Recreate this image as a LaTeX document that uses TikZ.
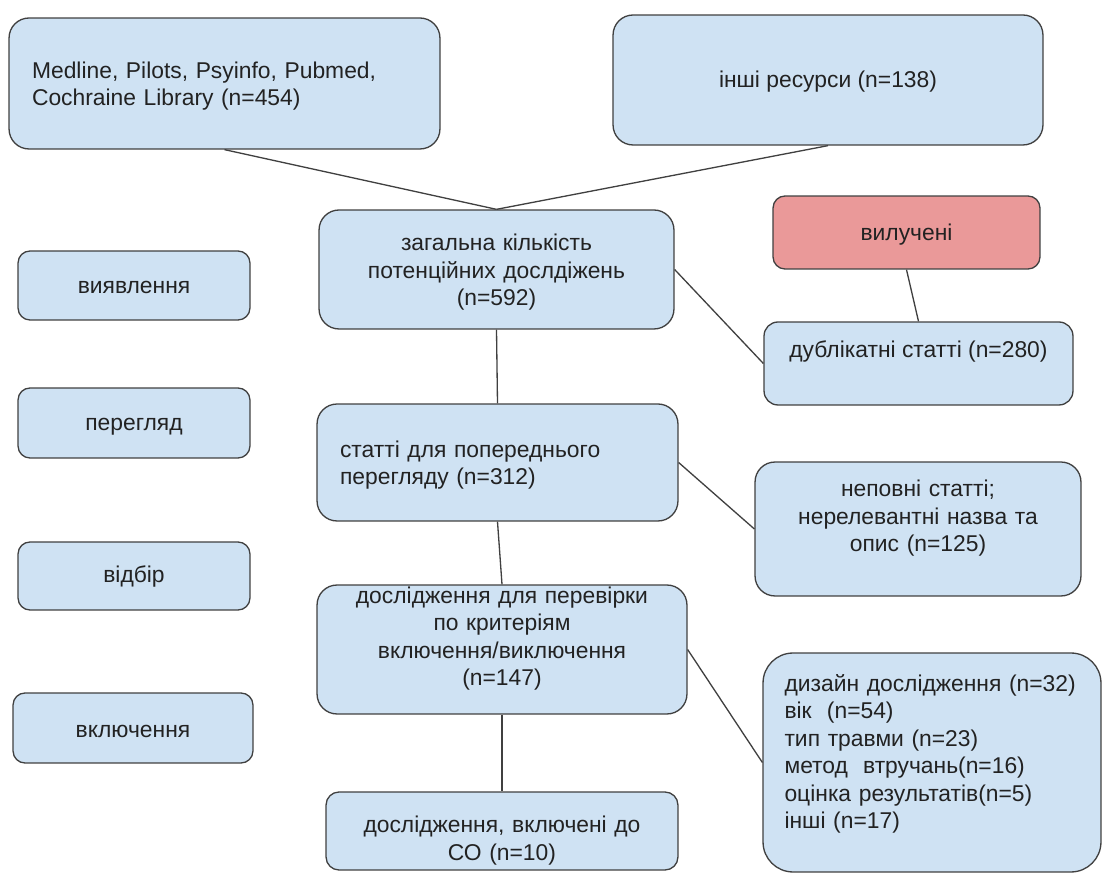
\documentclass[tikz,border=0pt]{standalone}
\usepackage{fontspec}
\setmainfont{Liberation Sans}
\usepackage{xcolor}
\usepackage{tikz}

\definecolor{boxblue}{HTML}{CFE2F3}
\definecolor{boxred}{HTML}{EA9999}
\definecolor{edgegray}{HTML}{404040}
\definecolor{inkgray}{HTML}{222222}

\tikzset{
  box/.style={draw=edgegray, fill=boxblue, line width=0.75pt, rounded corners=0.4cm,
    text=inkgray, font=\fontsize{13}{15.65}\selectfont, inner xsep=0.2cm},
  smallbox/.style={box, rounded corners=0.24cm},
  link/.style={draw=edgegray, line width=0.75pt},
}

\begin{document}
\begin{tikzpicture}[x=0.02cm,y=-0.02cm]
  \useasboundingbox (0,0) rectangle (1103,874);

  \node[box, minimum width=8.62cm, minimum height=2.62cm, text width=7.7cm, inner xsep=0.46cm, align=left, text height=0pt, text depth=6.06pt] (src) at (224.5,83.5) {Medline, Pilots, Psyinfo, Pubmed,\\ Cochraine Library (n=454)};
  \node[box, minimum width=8.6cm, minimum height=2.6cm, text height=9.02pt, text depth=0pt] (oth) at (828,80) {інші ресурси (n=138)};
  \node[box, minimum width=7.1cm, minimum height=2.38cm, text width=6.6cm, align=center, text height=0pt, text depth=21.15pt] (tot) at (496.5,269.5) {загальна кількість\\ потенційних дослдіжень\\ (n=592)};
  \node[smallbox, fill=boxred, minimum width=5.34cm, minimum height=1.46cm, text height=9.59pt, text depth=0pt] (excl) at (906.5,232.5) {вилучені};
  \node[box, rounded corners=0.28cm, minimum width=6.18cm, minimum height=1.66cm, text height=0pt, text depth=6.29pt] (dup) at (918.5,363.5) {дублікатні статті (n=280)};
  \node[box, minimum width=7.22cm, minimum height=2.34cm, text width=6.3cm, inner xsep=0.46cm, align=left, text height=0pt, text depth=6.06pt] (scr) at (497.5,462.5) {статті для попереднього\\ перегляду (n=312)};
  \node[box, minimum width=6.52cm, minimum height=2.68cm, text width=6.1cm, align=center, text height=0pt, text depth=36.45pt] (inc) at (918,529) {неповні статті;\\ нерелевантні назва та\\ опис (n=125)};
  \node[box, minimum width=7.4cm, minimum height=2.58cm, text width=7.0cm, align=center, text height=0pt, text depth=52.68pt] (elig) at (502,649.5) {дослідження для перевірки\\ по критеріям\\ включення/виключення\\ (n=147)};
  \node[box, rounded corners=0.26cm, minimum width=7.04cm, minimum height=1.56cm, text width=6.6cm, align=center, text height=1.87pt, text depth=0pt] (fin) at (502,831) {дослідження, включені до\\ СО (n=10)};
  \node[box, rounded corners=0.6cm, minimum width=6.76cm, minimum height=4.38cm, text width=5.9cm, inner xsep=0.43cm, align=left, text height=0pt, text depth=81.14pt] (det) at (932,762.5) {дизайн дослідження (n=32)\\ вік~~(n=54)\\ тип травми (n=23)\\ метод~~втручань(n=16)\\ оцінка результатів(n=5)\\ інші (n=17)};

  \node[smallbox, minimum width=4.64cm, minimum height=1.38cm, text height=9.59pt, text depth=0pt] (st1) at (134,285.5) {виявлення};
  \node[smallbox, minimum width=4.64cm, minimum height=1.4cm, text height=9.02pt, text depth=0pt] (st2) at (134,423) {перегляд};
  \node[smallbox, minimum width=4.64cm, minimum height=1.36cm, text height=7.88pt, text depth=0pt] (st3) at (134,576) {відбір};
  \node[smallbox, minimum width=4.8cm, minimum height=1.4cm, text height=11.29pt, text depth=0pt] (st4) at (133,728) {включення};

  \draw[link] (src.south) -- (tot.north);
  \draw[link] (oth.south) -- (tot.north);
  \draw[link] (excl.south) -- (dup.north);
  \draw[link] (tot.east) -- (dup.west);
  \draw[link] (tot.south) -- (scr.north);
  \draw[link] (scr.east) -- (inc.west);
  \draw[link] (scr.south) -- (elig.north);
  \draw[link] (elig.east) -- (det.west);
  \draw[link] (elig.south) -- (fin.north);
\end{tikzpicture}
\end{document}
